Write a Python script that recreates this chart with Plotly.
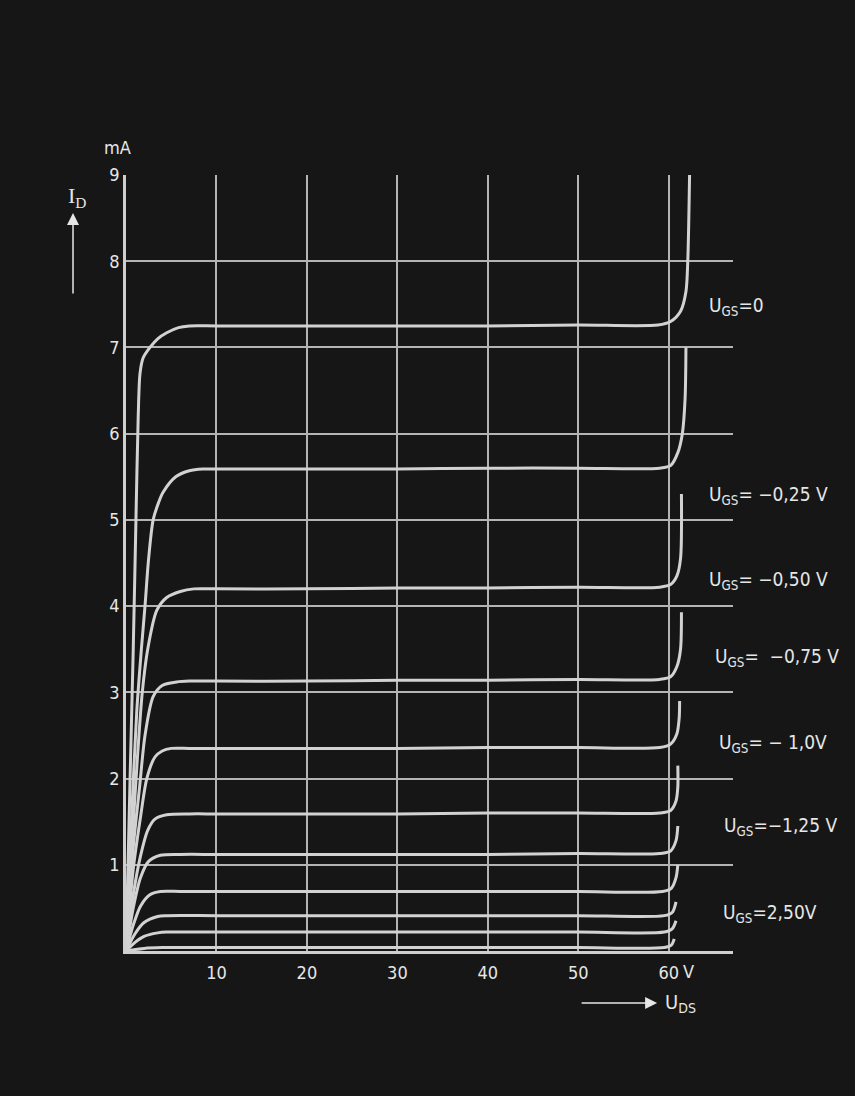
import plotly.graph_objects as go

# Output characteristics I_D = f(U_DS) of a junction FET, one curve per gate voltage
# Each curve: drain-source voltage (V) and drain current (mA)
u_ds_0 = [0, 0.45, 0.8, 1.1, 1.35, 1.55, 1.9, 2.65, 3.5, 4.5, 5.8, 7, 10, 20, 30, 40, 50, 58.8, 60.2, 61.3, 61.9, 62.1, 62.3]
i_d_0 = [0, 2.0, 3.5, 5.0, 6.2, 6.7, 6.88, 7.0, 7.1, 7.17, 7.23, 7.25, 7.25, 7.25, 7.25, 7.25, 7.26, 7.26, 7.3, 7.42, 7.65, 8.0, 9.0]

u_ds_025 = [0, 0.6, 1.2, 1.7, 2.1, 2.5, 3.0, 3.6, 4.1, 5.5, 7, 8.5, 10, 20, 30, 40, 50, 59, 60.2, 61.0, 61.5, 61.8, 61.9]
i_d_025 = [0, 1.5, 2.8, 3.5, 4.0, 4.55, 5.0, 5.2, 5.32, 5.5, 5.57, 5.59, 5.59, 5.59, 5.59, 5.6, 5.6, 5.6, 5.63, 5.78, 6.0, 6.4, 7.0]

u_ds_050 = [0, 0.7, 1.3, 1.8, 2.4, 3.4, 4.5, 6, 7.5, 10, 20, 30, 40, 50, 59, 60.2, 60.9, 61.3, 61.4]
i_d_050 = [0, 1.3, 2.3, 3.0, 3.5, 3.95, 4.1, 4.17, 4.2, 4.2, 4.2, 4.21, 4.21, 4.22, 4.22, 4.25, 4.35, 4.55, 5.3]

u_ds_075 = [0, 0.8, 1.5, 2.1, 3.0, 4.0, 5.6, 7, 10, 20, 30, 40, 50, 59, 60.2, 60.9, 61.3, 61.4]
i_d_075 = [0, 1.2, 1.9, 2.5, 2.95, 3.08, 3.12, 3.13, 3.13, 3.13, 3.14, 3.14, 3.15, 3.15, 3.18, 3.3, 3.5, 3.93]

u_ds_100 = [0, 0.8, 1.6, 2.3, 3.2, 4.0, 5.0, 7, 10, 20, 30, 40, 50, 59, 60.2, 60.9, 61.15, 61.2]
i_d_100 = [0, 0.95, 1.55, 2.0, 2.25, 2.32, 2.35, 2.35, 2.35, 2.35, 2.35, 2.36, 2.36, 2.36, 2.4, 2.52, 2.7, 2.9]

u_ds_125 = [0, 0.8, 1.6, 2.4, 3.2, 4.5, 7, 10, 20, 30, 40, 50, 59, 60.2, 60.8, 61.0, 61.0]
i_d_125 = [0, 0.65, 1.1, 1.4, 1.53, 1.58, 1.59, 1.59, 1.59, 1.59, 1.6, 1.6, 1.6, 1.63, 1.74, 1.9, 2.15]

u_ds_150 = [0, 0.8, 1.6, 2.5, 3.8, 6, 10, 20, 30, 40, 50, 59, 60.2, 60.8, 61.0]
i_d_150 = [0, 0.5, 0.85, 1.04, 1.11, 1.12, 1.12, 1.12, 1.12, 1.12, 1.13, 1.13, 1.16, 1.28, 1.45]

u_ds_175 = [0, 0.8, 1.6, 2.6, 3.8, 6, 10, 20, 30, 40, 50, 59.3, 60.3, 60.8, 61.0]
i_d_175 = [0, 0.3, 0.52, 0.65, 0.69, 0.69, 0.69, 0.69, 0.69, 0.69, 0.69, 0.69, 0.73, 0.85, 1.0]

u_ds_200 = [0, 1.0, 2.0, 3.5, 4.5, 10, 20, 30, 40, 50, 59.5, 60.4, 60.8]
i_d_200 = [0, 0.2, 0.33, 0.4, 0.41, 0.41, 0.41, 0.41, 0.41, 0.41, 0.41, 0.45, 0.57]

u_ds_225 = [0, 1.0, 2.0, 3.5, 4.5, 10, 20, 30, 40, 50, 59.5, 60.4, 60.8]
i_d_225 = [0, 0.1, 0.17, 0.21, 0.22, 0.22, 0.22, 0.22, 0.22, 0.22, 0.22, 0.26, 0.35]

u_ds_250 = [0, 2.0, 4.0, 10, 20, 30, 40, 50, 59.5, 60.3, 60.6]
i_d_250 = [0, 0.03, 0.04, 0.04, 0.04, 0.04, 0.04, 0.04, 0.04, 0.07, 0.14]

curves = [
    (u_ds_0, i_d_0), (u_ds_025, i_d_025), (u_ds_050, i_d_050),
    (u_ds_075, i_d_075), (u_ds_100, i_d_100), (u_ds_125, i_d_125),
    (u_ds_150, i_d_150), (u_ds_175, i_d_175), (u_ds_200, i_d_200),
    (u_ds_225, i_d_225), (u_ds_250, i_d_250),
]

# Gate-voltage labels and where they sit (V, mA)
label_texts = [
    "U<sub>GS</sub>=0",
    "U<sub>GS</sub>= \u22120,25 V",
    "U<sub>GS</sub>= \u22120,50 V",
    "U<sub>GS</sub>=  \u22120,75 V",
    "U<sub>GS</sub>= \u2212 1,0V",
    "U<sub>GS</sub>=\u22121,25 V",
    "U<sub>GS</sub>=2,50V",
]
label_x = [64.2, 64.2, 64.2, 64.9, 65.3, 65.9, 65.8]
label_y = [7.47, 5.28, 4.30, 3.40, 2.41, 1.44, 0.44]

x_ticks = [10, 20, 30, 40, 50, 60]
x_ticktext = ["10", "20", "30", "40", "50", "60"]
y_ticks = [1, 2, 3, 4, 5, 6, 7, 8, 9]
y_ticktext = ["1", "2", "3", "4", "5", "6", "7", "8", "9"]

BG = "#161616"
INK = "#e6e6e6"
GRID = "#b4b4b4"
CURVE = "#d2d2d2"
FONT = "DejaVu Sans Condensed, DejaVu Sans, sans-serif"

fig = go.Figure()
for xs, ys in curves:
    fig.add_trace(go.Scatter(
        x=xs, y=ys, mode="lines",
        line=dict(color=CURVE, width=3, shape="spline", smoothing=0.8),
        hoverinfo="skip", showlegend=False,
    ))

annotations = []
for t, lx, ly in zip(label_texts, label_x, label_y):
    annotations.append(dict(
        x=lx, y=ly, xref="x", yref="y", text=t, showarrow=False,
        xanchor="left", yanchor="middle",
        font=dict(family=FONT, size=19, color=INK),
    ))

# axis titles and arrows
annotations += [
    dict(x=-0.0132, y=1.036, xref="paper", yref="paper", text="mA", showarrow=False,
         xanchor="center", yanchor="middle",
         font=dict(family=FONT, size=18, color=INK)),
    dict(x=-0.0807, y=0.972, xref="paper", yref="paper", text="I<sub>D</sub>", showarrow=False,
         xanchor="center", yanchor="middle",
         font=dict(family="Liberation Serif, serif", size=22, color=INK)),
    dict(x=-0.0873, y=0.951, xref="paper", yref="paper", text="", showarrow=True,
         ax=0, ay=82, axref="pixel", ayref="pixel", arrowhead=2, arrowsize=1.6,
         arrowwidth=1.5, arrowcolor=INK),
    dict(x=0.875, y=-0.067, xref="paper", yref="paper", text="", showarrow=True,
         ax=-77, ay=0, axref="pixel", ayref="pixel", arrowhead=2, arrowsize=1.6,
         arrowwidth=1.5, arrowcolor=INK),
    dict(x=0.885, y=-0.067, xref="paper", yref="paper", text="U<sub>DS</sub>", showarrow=False,
         xanchor="left", yanchor="middle", font=dict(family=FONT, size=20, color=INK)),
    dict(x=0.926, y=-0.027, xref="paper", yref="paper", text="V", showarrow=False,
         xanchor="center", yanchor="middle", font=dict(family=FONT, size=18, color=INK)),
]

fig.update_layout(
    width=855, height=1096,
    margin=dict(l=126, r=122, t=175, b=145),
    paper_bgcolor=BG, plot_bgcolor=BG,
    showlegend=False,
    annotations=annotations,
    xaxis=dict(
        range=[0, 67.1], tickvals=x_ticks, ticktext=x_ticktext,
        showgrid=True, gridcolor=GRID, gridwidth=1.5, zeroline=False,
        showline=True, linecolor="#cfcfcf", linewidth=3,
        ticks="", ticklabelstandoff=3,
        tickfont=dict(family=FONT, size=18, color=INK),
    ),
    yaxis=dict(
        range=[0, 9], tickvals=y_ticks, ticktext=y_ticktext,
        showgrid=True, gridcolor=GRID, gridwidth=1.5, zeroline=False,
        showline=True, linecolor="#cfcfcf", linewidth=2.5,
        ticks="", tickfont=dict(family=FONT, size=18, color=INK),
    ),
)

fig.write_html("out.html")
